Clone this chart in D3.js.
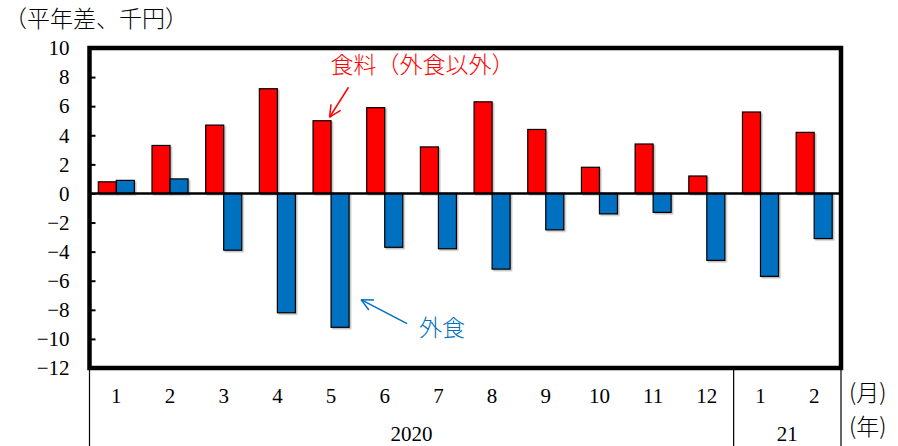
<!DOCTYPE html>
<html>
<head>
<meta charset="utf-8">
<script src="https://cdn.jsdelivr.net/npm/d3@7"></script>
<style>
  body { margin: 0; background: #fff; }
  svg { display: block; }
  .num { font-family: "Liberation Serif", serif; font-size: 21px; fill: #000; }
  .jp { font-family: "Noto Sans CJK JP", sans-serif; font-size: 23px; font-weight: 300; }
</style>
</head>
<body>
<div id="chart"></div>
<script>
// 月別の平年差（千円）
const months = ["1", "2", "3", "4", "5", "6", "7", "8", "9", "10", "11", "12", "1", "2"];
const years = [{ label: "2020", from: 0, to: 11 }, { label: "21", from: 12, to: 13 }];
const foodExclDiningOut = [0.8, 3.3, 4.7, 7.2, 5.0, 5.9, 3.2, 6.3, 4.4, 1.8, 3.4, 1.2, 5.6, 4.2];
const diningOut = [0.9, 1.0, -3.9, -8.2, -9.2, -3.7, -3.8, -5.2, -2.5, -1.4, -1.3, -4.6, -5.7, -3.1];
const yTicks = [-12, -10, -8, -6, -4, -2, 0, 2, 4, 6, 8, 10];

const W = 898, H = 446;
const margin = { top: 48, left: 89.5, right: 57, bottom: 78 };
const width = W - margin.left - margin.right;
const height = H - margin.top - margin.bottom;

const svg = d3.select("#chart").append("svg")
    .attr("width", W)
    .attr("height", H);

const defs = svg.append("defs");
const shadow = defs.append("filter").attr("id", "shadow")
    .attr("x", "-20%").attr("y", "-20%").attr("width", "140%").attr("height", "140%");
shadow.append("feDropShadow")
    .attr("dx", 1.5).attr("dy", 1.5).attr("stdDeviation", 0.6)
    .attr("flood-color", "#000").attr("flood-opacity", 0.25);

const g = svg.append("g")
    .attr("transform", `translate(${margin.left},${margin.top})`);

const idx = d3.range(months.length);

const x = d3.scaleBand()
    .domain(idx)
    .range([0, width])
    .padding(0);

const xSeries = d3.scaleBand()
    .domain(["food", "out"])
    .range([0, x.bandwidth()])
    .paddingInner(0)
    .paddingOuter(0.49);

const y = d3.scaleLinear()
    .domain([-12, 10])
    .range([height, 0]);

// y axis (ticks pointing inward)
const yAxis = d3.axisLeft(y)
    .tickValues(yTicks)
    .tickSizeInner(-6)
    .tickSizeOuter(0)
    .tickPadding(20)
    .tickFormat(d => d < 0 ? "\u2212" + Math.abs(d) : d);

const yg = g.append("g").call(yAxis);
yg.select(".domain").remove();
yg.selectAll(".tick line").attr("stroke", "#000").attr("stroke-width", 2);
yg.selectAll(".tick text").attr("class", "num").attr("font-family", null).attr("font-size", null);

// bars
const series = [
    { key: "food", values: foodExclDiningOut, color: "#ff0000" },
    { key: "out", values: diningOut, color: "#0070c0" }
];

series.forEach(s => {
    g.append("g").selectAll("rect")
        .data(s.values)
        .enter()
        .append("rect")
        .attr("x", (d, i) => x(i) + xSeries(s.key))
        .attr("width", xSeries.bandwidth())
        .attr("y", d => y(Math.max(0, d)))
        .attr("height", d => Math.abs(y(d) - y(0)))
        .attr("fill", s.color)
        .attr("stroke", "#000")
        .attr("stroke-width", 1.2)
        .attr("filter", "url(#shadow)");
});

// zero line
g.append("line")
    .attr("x1", 0).attr("x2", width)
    .attr("y1", y(0)).attr("y2", y(0))
    .attr("stroke", "#000")
    .attr("stroke-width", 2.5);

// plot frame
g.append("rect")
    .attr("x", 0).attr("y", 0)
    .attr("width", width).attr("height", height)
    .attr("fill", "none")
    .attr("stroke", "#000")
    .attr("stroke-width", 4.5);

// category table below the plot
const sepX = [0, x(12), width];
g.selectAll(".sep")
    .data(sepX)
    .enter()
    .append("line")
    .attr("class", "sep")
    .attr("x1", d => d).attr("x2", d => d)
    .attr("y1", height).attr("y2", H - margin.top)
    .attr("stroke", "#000")
    .attr("stroke-width", 1.2);

g.selectAll(".month")
    .data(months)
    .enter()
    .append("text")
    .attr("class", "num")
    .attr("text-anchor", "middle")
    .attr("font-size", 23)
    .attr("x", (d, i) => x(i) + x.bandwidth() / 2)
    .attr("y", height + 35)
    .text(d => d);

g.selectAll(".year")
    .data(years)
    .enter()
    .append("text")
    .attr("class", "num")
    .attr("text-anchor", "middle")
    .attr("font-size", 22)
    .attr("x", d => (x(d.from) + x(d.to) + x.bandwidth()) / 2)
    .attr("y", height + 73)
    .text(d => d.label);

g.append("text")
    .attr("class", "jp")
    .attr("x", width + 8)
    .attr("y", height + 33)
    .attr("font-size", 20)
    .text("(月)");

g.append("text")
    .attr("class", "jp")
    .attr("x", width + 8)
    .attr("y", height + 67)
    .attr("font-size", 20)
    .text("(年)");

// unit label
svg.append("text")
    .attr("class", "jp")
    .attr("x", 4)
    .attr("y", 27)
    .text("（平年差、千円）");

// annotations
function arrow(x1, y1, x2, y2, color) {
    const ang = Math.atan2(y2 - y1, x2 - x1);
    const len = 13, spread = 0.45;
    g.append("line")
        .attr("x1", x1).attr("y1", y1).attr("x2", x2).attr("y2", y2)
        .attr("stroke", color).attr("stroke-width", 1.5);
    [-spread, spread].forEach(a => {
        g.append("line")
            .attr("x1", x2).attr("y1", y2)
            .attr("x2", x2 - len * Math.cos(ang + a))
            .attr("y2", y2 - len * Math.sin(ang + a))
            .attr("stroke", color).attr("stroke-width", 1.5);
    });
}

const redTipX = x(4) + xSeries("out") - 1.5;
const redTipY = y(foodExclDiningOut[4]) - 3.5;
arrow(redTipX + 19, redTipY - 30, redTipX, redTipY, "#ff0000");
g.append("text")
    .attr("class", "jp")
    .attr("fill", "#ff0000")
    .attr("x", redTipX + 1)
    .attr("y", y(8.3))
    .text("食料（外食以外）");

const blueTipX = x(4) + xSeries("out") + xSeries.bandwidth() + 12;
const blueTipY = y(-7.3);
arrow(blueTipX + 46, blueTipY + 24, blueTipX, blueTipY, "#0070c0");
g.append("text")
    .attr("class", "jp")
    .attr("fill", "#0070c0")
    .attr("x", blueTipX + 58)
    .attr("y", y(-9.8))
    .text("外食");
</script>
</body>
</html>
